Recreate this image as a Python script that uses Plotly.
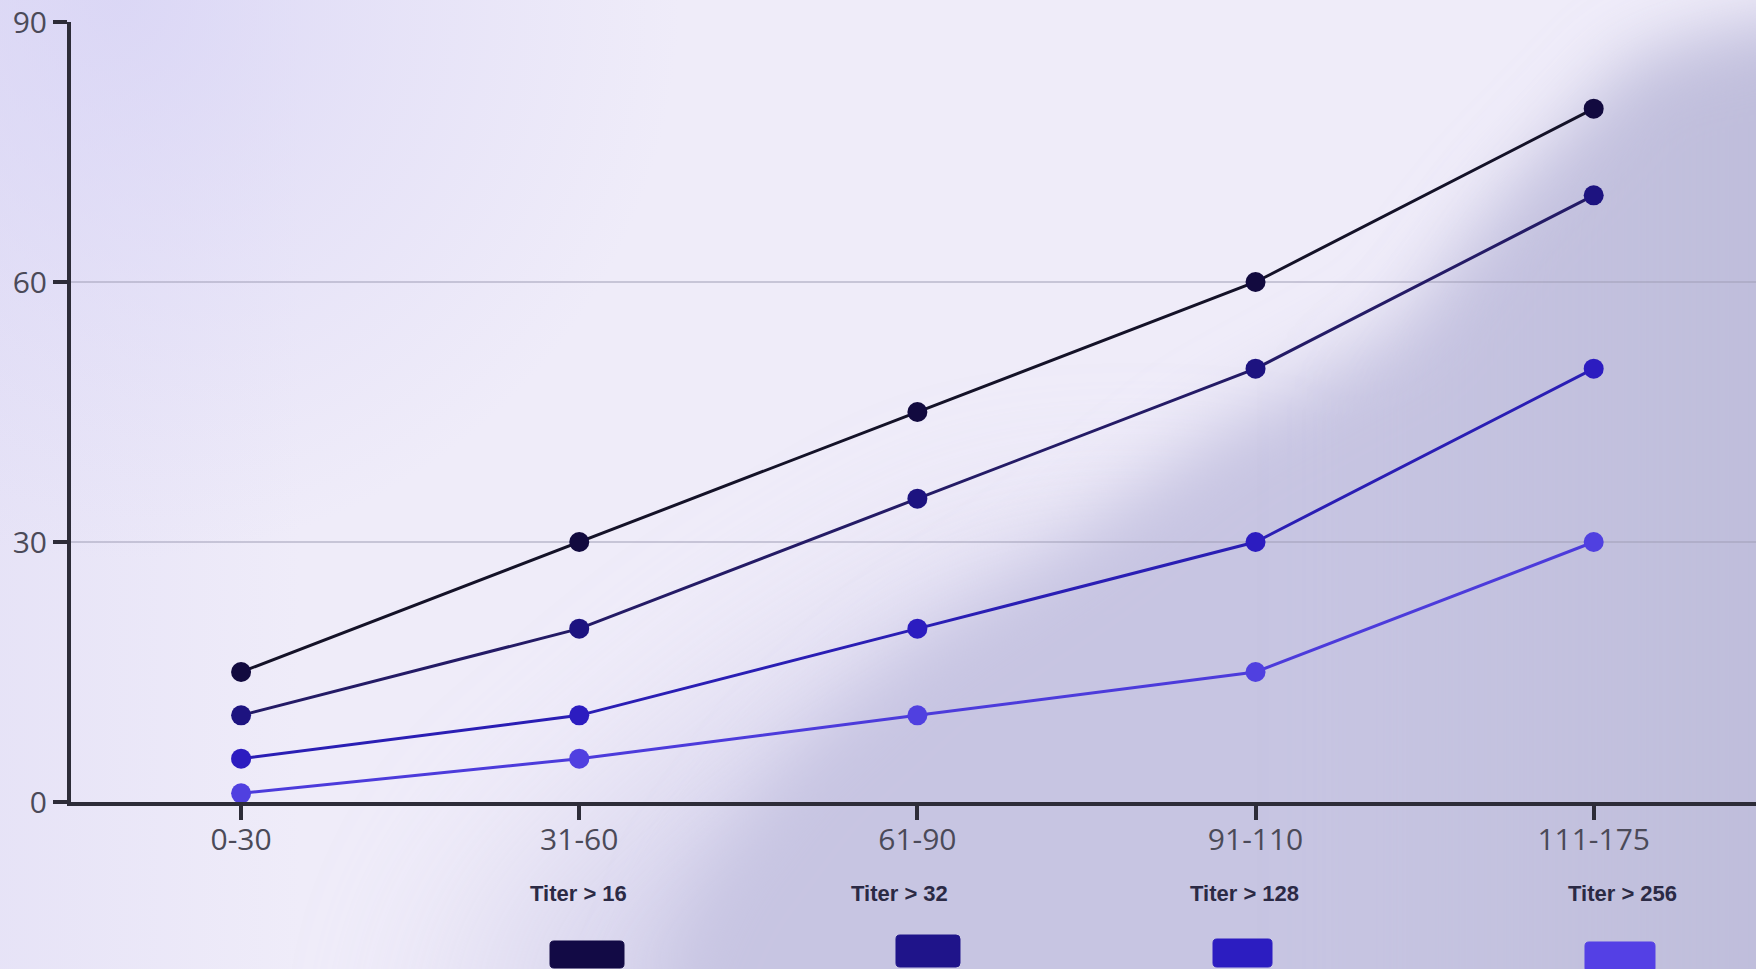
import base64
import plotly.graph_objects as go

# ---------------- data ----------------
categories = ["0-30", "31-60", "61-90", "91-110", "111-175"]
series_names = ["Titer > 16", "Titer > 32", "Titer > 128", "Titer > 256"]
titer16 = [15, 30, 45, 60, 80]
titer32 = [10, 20, 35, 50, 70]
titer128 = [5, 10, 20, 30, 50]
titer256 = [1, 5, 10, 15, 30]
y_ticks = [0, 30, 60, 90]

# ---------------- styles ----------------
line_colors = ["#141228", "#241b66", "#2a1eb4", "#4c3bdb"]
marker_colors = ["#120a3f", "#1d1380", "#2c1cc0", "#5040e0"]
swatch_colors = ["#120a45", "#1f148a", "#2c1dc1", "#5440e5"]
axis_color = "#2d2c38"

W, H = 1756, 969
ML, MR, MT, MB = 71, 0, 22, 167
PW, PH = W - ML - MR, H - MT - MB

# legend layout (pixel positions)
legend_label_px = [(578, 893), (899, 893), (1244, 893), (1622, 893)]
legend_swatch_px = [(550, 941, 624, 968), (896, 935, 960, 967),
                    (1213, 939, 1272, 967), (1585, 942, 1655, 972)]

def px_x(px):
    return (px - ML) / PW

def px_y(py):
    return (H - MB - py) / PH

def rounded_rect_path(x0, y0, x1, y1, r=4):
    # pixel coords -> paper coords path with rounded corners
    pts = []
    def P(x, y):
        return f"{px_x(x):.6f},{px_y(y):.6f}"
    d = (f"M {P(x0 + r, y0)} L {P(x1 - r, y0)} Q {P(x1, y0)} {P(x1, y0 + r)} "
         f"L {P(x1, y1 - r)} Q {P(x1, y1)} {P(x1 - r, y1)} "
         f"L {P(x0 + r, y1)} Q {P(x0, y1)} {P(x0, y1 - r)} "
         f"L {P(x0, y0 + r)} Q {P(x0, y0)} {P(x0 + r, y0)} Z")
    return d

# ---------------- background (blurred svg shapes) ----------------
shade_path = ("M 1900 20 L 1760 32 L 1640 62 L 1506 200 L 1400 330 L 1218 429 "
              "L 1074 540 L 910 650 L 790 760 L 700 880 L 650 1000 L 650 1150 L 1900 1150 Z")
soft_path = ("M 1000 560 L 760 700 L 520 900 L 450 1100 L 1300 1150 L 1300 560 Z")
svg = f'''<svg xmlns="http://www.w3.org/2000/svg" width="{W}" height="{H}" viewBox="0 0 {W} {H}">
<defs>
<filter id="b1" x="-50%" y="-50%" width="200%" height="200%"><feGaussianBlur stdDeviation="36"/></filter>
<filter id="b2" x="-50%" y="-50%" width="200%" height="200%"><feGaussianBlur stdDeviation="90"/></filter>
<radialGradient id="g3" gradientUnits="userSpaceOnUse" cx="120" cy="0" r="560">
<stop offset="0" stop-color="#d6d2f5" stop-opacity="0.75"/>
<stop offset="0.5" stop-color="#d6d2f5" stop-opacity="0.35"/>
<stop offset="1" stop-color="#d6d2f5" stop-opacity="0"/>
</radialGradient>
<linearGradient id="g2" gradientUnits="userSpaceOnUse" x1="0" y1="0" x2="300" y2="0">
<stop offset="0" stop-color="#dcd8f4" stop-opacity="0.45"/>
<stop offset="1" stop-color="#dcd8f4" stop-opacity="0"/>
</linearGradient>
<linearGradient id="g4" gradientUnits="userSpaceOnUse" x1="1300" y1="0" x2="1756" y2="0">
<stop offset="0" stop-color="#b9b8d6" stop-opacity="0"/>
<stop offset="1" stop-color="#b9b8d6" stop-opacity="0.55"/>
</linearGradient>
</defs>
<rect width="{W}" height="{H}" fill="#efecf9"/>
<rect width="{W}" height="{H}" fill="url(#g2)"/>
<rect width="{W}" height="{H}" fill="url(#g3)"/>
<path d="{soft_path}" fill="#d0cde9" opacity="0.8" filter="url(#b2)"/>
<path d="{shade_path}" fill="#c7c5e2" filter="url(#b1)"/>
<path d="{shade_path}" fill="url(#g4)" filter="url(#b1)"/>
</svg>'''
svg_uri = "data:image/svg+xml;base64," + base64.b64encode(svg.encode()).decode()

# ---------------- figure ----------------
fig = go.Figure()
all_series = [titer16, titer32, titer128, titer256]
for name, vals, lc, mc in zip(series_names, all_series, line_colors, marker_colors):
    fig.add_trace(go.Scatter(
        x=categories, y=vals, name=name, mode="lines+markers",
        line=dict(color=lc, width=3),
        marker=dict(color=mc, size=20, line=dict(width=0)),
        showlegend=False,
    ))

annotations = []
shapes = []
for name, (lx, ly) in zip(series_names, legend_label_px):
    annotations.append(dict(
        text=f"<b>{name}</b>", xref="paper", yref="paper",
        x=px_x(lx), y=px_y(ly), xanchor="center", yanchor="middle",
        showarrow=False,
        font=dict(family="Liberation Sans, Arial", size=22, color="#2b2a45"),
    ))
for (x0, y0, x1, y1), c in zip(legend_swatch_px, swatch_colors):
    shapes.append(dict(
        type="path", xref="paper", yref="paper",
        path=rounded_rect_path(x0, y0, x1, y1, 4),
        fillcolor=c, line=dict(color=c, width=1), layer="above",
    ))

fig.update_layout(
    width=W, height=H,
    margin=dict(l=ML, r=MR, t=MT, b=MB, pad=0),
    paper_bgcolor="#eeebf8",
    plot_bgcolor="rgba(0,0,0,0)",
    images=[dict(
        source=svg_uri, xref="paper", yref="paper",
        x=-ML / PW, y=1 + MT / PH, sizex=W / PW, sizey=H / PH,
        xanchor="left", yanchor="top", sizing="stretch", layer="below",
    )],
    annotations=annotations,
    shapes=shapes,
    xaxis=dict(
        type="category", categoryarray=categories,
        range=[-0.503, 4.48],
        showline=True, linecolor=axis_color, linewidth=4,
        ticks="outside", ticklen=14, tickwidth=4, tickcolor=axis_color,
        ticklabelstandoff=-6,
        showgrid=False, zeroline=False,
        tickfont=dict(family="Open Sans", size=30, color="#4b4a58"),
    ),
    yaxis=dict(
        range=[0, 90], tickvals=y_ticks,
        showline=True, linecolor=axis_color, linewidth=4,
        ticks="outside", ticklen=14, tickwidth=4, tickcolor=axis_color,
        showgrid=True, gridcolor="rgba(160,158,182,0.5)", gridwidth=2,
        zeroline=False,
        tickfont=dict(family="Open Sans", size=30, color="#4b4a58"),
    ),
    showlegend=False,
)

fig.write_html("out.html")
